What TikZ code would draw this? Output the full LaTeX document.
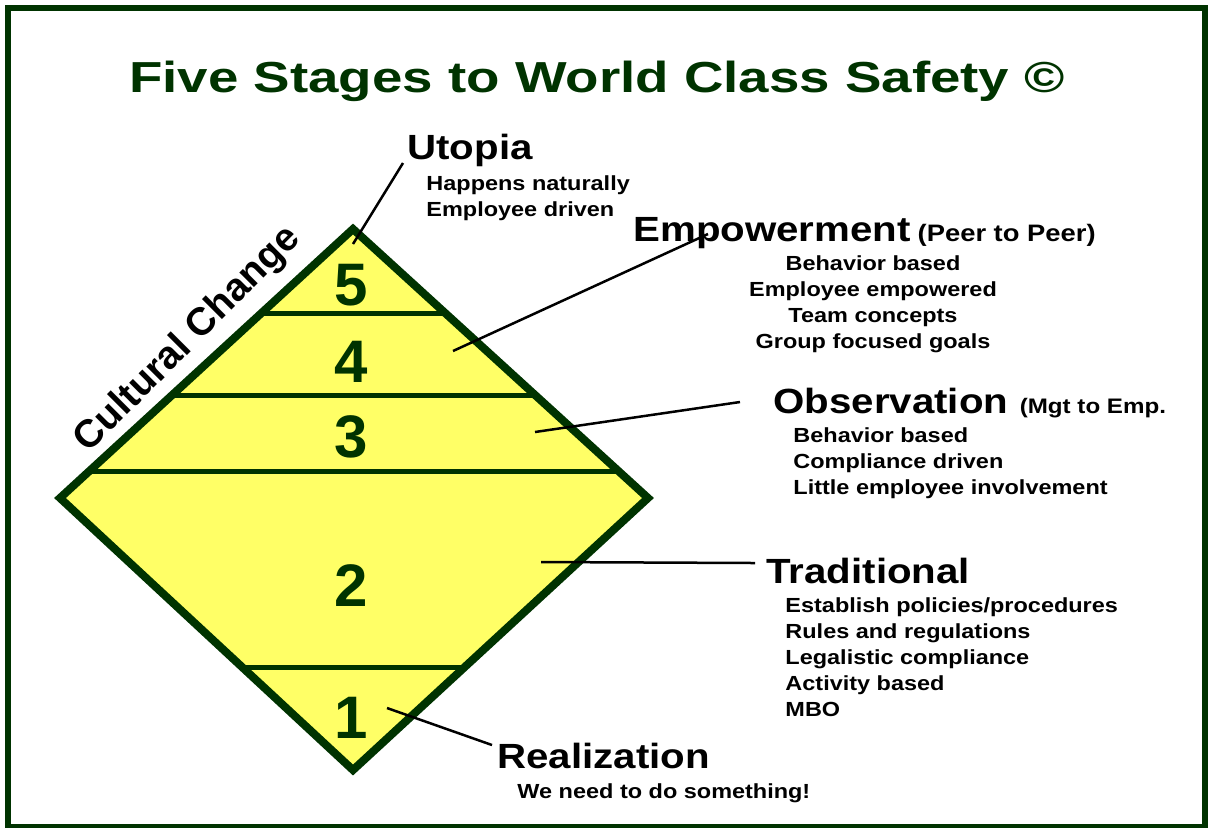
\documentclass[tikz,border=0pt]{standalone}
\usepackage{fontspec}
\setmainfont{Liberation Sans}
\definecolor{safegreen}{RGB}{0,51,0}
\definecolor{safeyellow}{RGB}{255,255,102}
\newcommand{\asidesize}{\fontsize{11.9}{14}\selectfont}
\tikzset{
    txt/.style={inner sep=0pt, xscale=1.15, font=\bfseries},
    stage/.style={txt, anchor=base west, font=\fontsize{17.5}{21}\selectfont\bfseries},
    point/.style={txt, anchor=base west, font=\fontsize{10.2}{12}\selectfont\bfseries},
    digit/.style={inner sep=0pt, anchor=base, text=safegreen, font=\fontsize{30}{34}\selectfont\bfseries},
    leader/.style={line width=1.25pt},
    band/.style={line width=2.5pt, safegreen},
}
\begin{document}
\begin{tikzpicture}[x=0.5pt,y=-0.5pt]
    \useasboundingbox (0,0) rectangle (1208,827);
    \draw[safegreen, line width=3.25pt] (8,8) rectangle (1205,827);
    \node[inner sep=0pt, anchor=base, text=safegreen, xscale=1.26, font=\fontsize{21.7}{25}\selectfont\bfseries] (title) at (597,92) {Five Stages to World Class Safety ©};
    % diamond
    \coordinate (top) at (353,229);
    \coordinate (right) at (648,498);
    \coordinate (bottom) at (353,770);
    \coordinate (left) at (60,498);
    \fill[safeyellow] (top) -- (right) -- (bottom) -- (left) -- cycle;
    \begin{scope}
        \clip (top) -- (right) -- (bottom) -- (left) -- cycle;
        \foreach \y in {313,395,471,667}
            \draw[band] (0,\y) -- (700,\y);
    \end{scope}
    \draw[safegreen, line width=4pt] (top) -- (right) -- (bottom) -- (left) -- cycle;
    \foreach \d/\y in {5/305,4/382,3/457,2/606,1/738}
        \node[digit] (num\d) at (351,\y) {\d};
    \node[inner sep=0pt, rotate=45, font=\fontsize{19.5}{22}\selectfont\bfseries] (culture) at (188,340) {Cultural Change};
    % stage texts
    \node[stage] (utopia) at (407,159) {Utopia};
    \node[point] (utopia1) at (426,190) {Happens naturally};
    \node[point] (utopia2) at (426,216) {Employee driven};
    \node[stage] (empower) at (633,241) {Empowerment\hspace{3pt}{\asidesize(Peer to Peer)}};
    \foreach \t/\y [count=\i] in {Behavior based/270,Employee empowered/296,Team concepts/322,Group focused goals/348}
        \node[point, anchor=base] (empower\i) at (873,\y) {\t};
    \node[stage] (observe) at (773,413) {Observation\hspace{5pt}{\fontsize{10.5}{13}\selectfont(Mgt to Emp.}};
    \foreach \t/\y [count=\i] in {Behavior based/442,Compliance driven/468,Little employee involvement/494}
        \node[point] (observe\i) at (793,\y) {\t};
    \node[stage] (tradition) at (766,583) {Traditional};
    \foreach \t/\y [count=\i] in {{Establish policies/procedures}/612,Rules and regulations/638,Legalistic compliance/664,Activity based/690,MBO/716}
        \node[point] (tradition\i) at (785,\y) {\t};
    \node[stage] (realize) at (497,768) {Realization};
    \node[point] (realize1) at (517,798) {We need to do something!};
    % leaders
    \coordinate (u5) at (353,244);
    \coordinate (ut) at (403,163);
    \coordinate (e4) at (453,351);
    \coordinate (et) at (708,234);
    \coordinate (o3) at (535,432);
    \coordinate (ot) at (740,402);
    \coordinate (t2) at (541,562);
    \coordinate (tt) at (755,563);
    \coordinate (r1) at (387,708);
    \coordinate (rt) at (492,745);
    \draw[leader] (u5) -- (ut);
    \draw[leader] (e4) -- (et);
    \draw[leader] (o3) -- (ot);
    \draw[leader] (t2) -- (tt);
    \draw[leader] (r1) -- (rt);
\end{tikzpicture}
\end{document}
